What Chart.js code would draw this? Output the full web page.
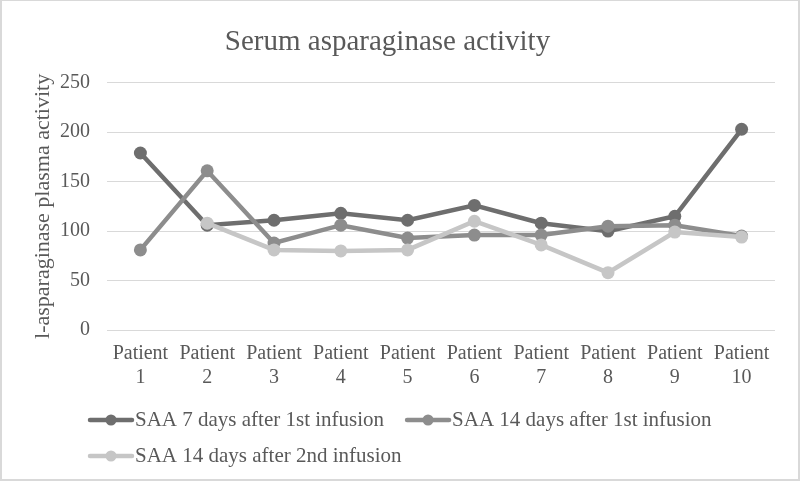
<!DOCTYPE html>
<html><head><meta charset="utf-8">
<script src="https://cdn.jsdelivr.net/npm/chart.js@4"></script>
<style>
html,body{margin:0;padding:0;background:#fff}
#wrap{position:relative;width:800px;height:481px}
#frame{position:absolute;left:0;top:0;width:800px;height:481px;box-sizing:border-box;border:2px solid #d9d9d9;border-top-width:1px;pointer-events:none}
</style>
</head><body>
<div id="wrap"><canvas id="c" width="800" height="481"></canvas><div id="frame"></div></div>
<script>
const categories = [["Patient","1"],["Patient","2"],["Patient","3"],["Patient","4"],["Patient","5"],["Patient","6"],["Patient","7"],["Patient","8"],["Patient","9"],["Patient","10"]];
const seriesNames = ["SAA 7 days after 1st infusion","SAA 14 days after 1st infusion","SAA 14 days after 2nd infusion"];
const saa7days1st = [179,106,111,118,111,126,108,100,115,203];
const saa14days1st = [81,161,88,106,93,96,96,105,106,95];
const saa14days2nd = [null,108,81,80,81,110,86,58,99,94];
const yTicks = [0,50,100,150,200,250];
const colors = ["#6e6e6e","#8d8d8d","#c6c6c6"];

const FONT = "'Liberation Serif','Times New Roman',serif";
const TXT = "#595959";

function ds(label, data, color, order){
  return {label, data, borderColor: color, backgroundColor: color, pointBackgroundColor: color,
    pointBorderColor: color, borderWidth: 4.5, pointRadius: 6.5, pointHoverRadius: 6.5, pointBorderWidth: 0,
    tension: 0, spanGaps: false, order};
}

const legendPlugin = {
  id: 'excelLegend',
  afterDraw(chart){
    const ctx = chart.ctx;
    const sets = chart.data.datasets;
    const startX = 88, lineW = 46, textGap = 1, itemGap = 21, rowH = 36;
    const maxX = chart.width - 20;
    let x = startX, y = chart.chartArea.bottom + 90;
    ctx.save();
    ctx.font = "21px " + FONT;
    ctx.textBaseline = 'middle';
    ctx.textAlign = 'left';
    sets.forEach((d, i) => {
      const tw = ctx.measureText(d.label).width;
      const w = lineW + textGap + tw;
      if (i > 0 && x + w > maxX){ x = startX; y += rowH; }
      ctx.strokeStyle = d.borderColor; ctx.lineWidth = 4.5; ctx.lineCap = 'round';
      ctx.beginPath(); ctx.moveTo(x + 2, y); ctx.lineTo(x + lineW - 2, y); ctx.stroke();
      ctx.fillStyle = d.borderColor;
      ctx.beginPath(); ctx.arc(x + lineW/2, y, 5.5, 0, Math.PI*2); ctx.fill();
      ctx.fillStyle = TXT;
      ctx.fillText(d.label, x + lineW + textGap, y);
      x += w + itemGap;
    });
    ctx.restore();
  }
};

new Chart(document.getElementById('c'), {
  type: 'line',
  data: {
    labels: categories,
    datasets: [
      ds(seriesNames[0], saa7days1st, colors[0], 3),
      ds(seriesNames[1], saa14days1st, colors[1], 2),
      ds(seriesNames[2], saa14days2nd, colors[2], 1)
    ]
  },
  options: {
    responsive: false,
    animation: false,
    devicePixelRatio: 1,
    layout: { padding: { left: 0, right: 25, top: 0, bottom: 79 } },
    plugins: {
      legend: { display: false },
      tooltip: { enabled: false },
      title: { display: true, text: 'Serum asparaginase activity', color: TXT,
        font: { family: FONT, size: 29, weight: 'normal' }, padding: { top: 25, bottom: 23 } }
    },
    scales: {
      x: {
        offset: true,
        grid: { display: false, drawTicks: false },
        border: { display: false },
        ticks: { color: TXT, font: { family: FONT, size: 20 }, maxRotation: 0, autoSkip: false, padding: 12 }
      },
      y: {
        min: 0, max: 250,
        afterBuildTicks(scale){ scale.ticks = yTicks.map(v => ({value: v})); },
        afterFit(scale){ scale.width = 107; },
        grid: { color: '#d9d9d9', lineWidth: 1, drawTicks: false },
        border: { display: false },
        ticks: { color: TXT, font: { family: FONT, size: 20 }, padding: 17 },
        title: { display: true, text: 'l-asparaginase plasma activity', color: TXT,
          font: { family: FONT, size: 22 }, padding: { top: 30, bottom: 4 } }
      }
    }
  },
  plugins: [legendPlugin]
});
</script>
</body></html>
